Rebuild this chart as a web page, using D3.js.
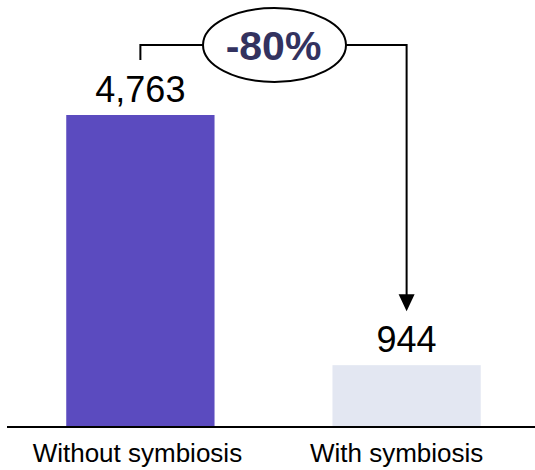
<!DOCTYPE html>
<html>
<head>
<meta charset="utf-8">
<script src="https://cdn.jsdelivr.net/npm/d3@7"></script>
<style>
  html, body { margin: 0; padding: 0; background: #fff; }
  svg { display: block; font-family: "Liberation Sans", Arial, sans-serif; }
</style>
</head>
<body>
<svg id="chart" width="535" height="470"></svg>
<script>
// Data
const categories = ["Without symbiosis", "With symbiosis"];
const values = [4763, 944];
const valueLabels = ["4,763", "944"];
const changeLabel = "-80%";
const barColors = ["#5b4bbf", "#e3e7f2"];

const svg = d3.select("#chart");
const baseY = 427;

const x = d3.scaleBand()
  .domain(categories)
  .range([13, 534])
  .paddingInner(0.443)
  .paddingOuter(0.2);

const y = d3.scaleLinear()
  .domain([0, d3.max(values)])
  .range([baseY, 115]);

const data = categories.map((c, i) => ({ cat: c, value: values[i], label: valueLabels[i], color: barColors[i] }));

// Bars
svg.selectAll("rect.bar")
  .data(data)
  .join("rect")
  .attr("class", "bar")
  .attr("x", d => x(d.cat))
  .attr("y", d => y(d.value))
  .attr("width", x.bandwidth())
  .attr("height", d => baseY - y(d.value))
  .attr("fill", d => d.color);

// Value labels
svg.selectAll("text.value")
  .data(data)
  .join("text")
  .attr("class", "value")
  .attr("x", d => x(d.cat) + x.bandwidth() / 2)
  .attr("y", d => y(d.value) - 13)
  .attr("text-anchor", "middle")
  .attr("font-size", 36)
  .attr("fill", "#000")
  .text(d => d.label);

// Category axis
const axis = svg.append("g")
  .attr("transform", `translate(0,${baseY})`)
  .call(d3.axisBottom(x).tickSize(0).tickPadding(0));
axis.select(".domain").remove();
axis.append("line")
  .attr("x1", 7).attr("x2", 535)
  .attr("y1", 0).attr("y2", 0)
  .attr("stroke", "#000").attr("stroke-width", 2);
axis.selectAll(".tick text")
  .attr("font-family", "Liberation Sans, Arial, sans-serif")
  .attr("font-size", 26)
  .attr("fill", "#000")
  .attr("dy", null)
  .attr("y", 35)
  .attr("dx", (d, i) => i === 0 ? -3 : -10);

// Change annotation: bracket from first bar to second with an arrow
const cx0 = x(categories[0]) + x.bandwidth() / 2;
const cx1 = x(categories[1]) + x.bandwidth() / 2;
const levelY = 45;
const top0 = y(values[0]) - 55;
const tip1 = y(values[1]) - 54;
const ell = { cx: 274.5, cy: levelY, rx: 71.5, ry: 37 };

const g = svg.append("g").attr("stroke", "#000").attr("stroke-width", 2).attr("fill", "none");
g.append("path")
  .attr("d", `M${cx0},${top0} V${levelY} H${ell.cx - ell.rx}`);
g.append("path")
  .attr("d", `M${ell.cx + ell.rx},${levelY} H${cx1} V${tip1 - 16}`);
svg.append("path")
  .attr("d", `M${cx1 - 8},${tip1 - 17} L${cx1 + 8},${tip1 - 17} L${cx1},${tip1} Z`)
  .attr("fill", "#000");

svg.append("ellipse")
  .attr("cx", ell.cx).attr("cy", ell.cy)
  .attr("rx", ell.rx).attr("ry", ell.ry)
  .attr("fill", "#fff")
  .attr("stroke", "#000")
  .attr("stroke-width", 2);

svg.append("text")
  .attr("x", ell.cx - 1)
  .attr("y", levelY + 15)
  .attr("text-anchor", "middle")
  .attr("font-size", 41)
  .attr("font-weight", "bold")
  .attr("fill", "#33325f")
  .text(changeLabel);
</script>
</body>
</html>
